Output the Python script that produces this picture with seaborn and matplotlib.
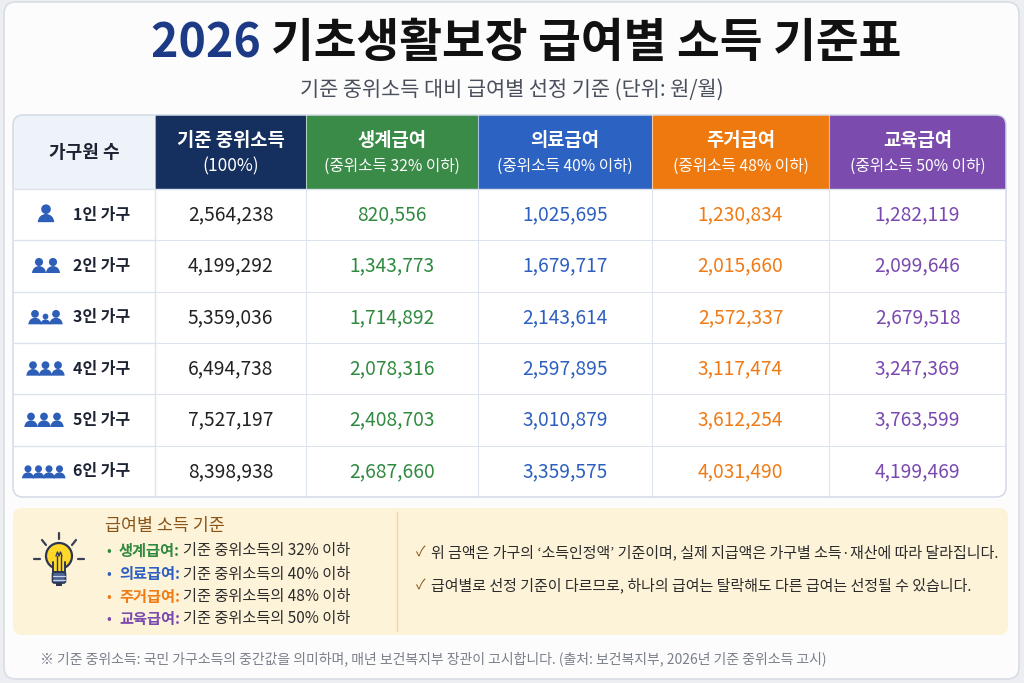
import numpy as np
import pandas as pd
import matplotlib
matplotlib.use("Agg")
import matplotlib.pyplot as plt
import seaborn as sns
from matplotlib.colors import ListedColormap
from matplotlib.patches import FancyBboxPatch, Rectangle, Circle, Wedge

# ---------------- data ----------------
households = ["1인 가구", "2인 가구", "3인 가구", "4인 가구", "5인 가구", "6인 가구"]
member_counts = [1, 2, 3, 4, 5, 6]
median_income = [2564238, 4199292, 5359036, 6494738, 7527197, 8398938]
livelihood = [820556, 1343773, 1714892, 2078316, 2408703, 2687660]
medical = [1025695, 1679717, 2143614, 2597895, 3010879, 3359575]
housing = [1230834, 2015660, 2572337, 3117474, 3612254, 4031490]
education = [1282119, 2099646, 2679518, 3247369, 3763599, 4199469]

col_titles = ["기준 중위소득", "생계급여", "의료급여", "주거급여", "교육급여"]
col_subtitles = ["(100%)", "(중위소득 32% 이하)", "(중위소득 40% 이하)",
                 "(중위소득 48% 이하)", "(중위소득 50% 이하)"]
benefit_names = ["생계급여", "의료급여", "주거급여", "교육급여"]
benefit_rates = ["32%", "40%", "48%", "50%"]

title_year = "2026"
title_rest = "기초생활보장 급여별 소득 기준표"
subtitle = "기준 중위소득 대비 급여별 선정 기준 (단위: 원/월)"
note_title = "급여별 소득 기준"
checks = ["위 금액은 가구의 ‘소득인정액’ 기준이며, 실제 지급액은 가구별 소득·재산에 따라 달라집니다.",
          "급여별로 선정 기준이 다르므로, 하나의 급여는 탈락해도 다른 급여는 선정될 수 있습니다."]
footnote = "※ 기준 중위소득: 국민 가구소득의 중간값을 의미하며, 매년 보건복지부 장관이 고시합니다. (출처: 보건복지부, 2026년 기준 중위소득 고시)"

# ---------------- style ----------------
sns.set_theme(style="white")
FAM = ["Noto Sans CJK KR", "DejaVu Sans"]
plt.rcParams["font.family"] = FAM

head_colors = ["#15305f", "#3a8a48", "#2c62c1", "#ee7a0f", "#7b4cae"]
val_colors = ["#222222", "#2f8a40", "#2c5fbf", "#f07a14", "#7a49b0"]
icon_blue = "#2d5fb8"
grid_c = "#dde3ee"

W, H = 1024, 683
fig = plt.figure(figsize=(W / 100, H / 100), dpi=100)
fig.patch.set_facecolor("#eceef2")

def px_axes(zorder):
    a = fig.add_axes([0, 0, 1, 1], zorder=zorder)
    a.set_xlim(0, W)
    a.set_ylim(H, 0)
    a.axis("off")
    a.patch.set_alpha(0)
    return a

bg = px_axes(0)
bg.add_patch(FancyBboxPatch((4, 2), 1015, 677, boxstyle="round,pad=0,rounding_size=12",
                            fc="#fcfcfd", ec="#d9dde4", lw=1.2))

# ---------------- table ----------------
edges = [13, 155, 306, 478, 652, 829, 1006]
top_h, bot_h = 115, 189
row_top, row_bot = 189, 497
series = [median_income, livelihood, medical, housing, education]

for j, vals in enumerate(series):
    x0, x1 = edges[j + 1], edges[j + 2]
    hax = fig.add_axes([x0 / W, 1 - row_bot / H, (x1 - x0) / W, (row_bot - row_top) / H], zorder=1)
    df = pd.DataFrame({col_titles[j]: vals}, index=households)
    sns.heatmap(df, ax=hax, cmap=ListedColormap(["white"]), vmin=0, vmax=1e7, cbar=False,
                annot=True, fmt=",d", linewidths=0.6, linecolor=grid_c,
                annot_kws=dict(color=val_colors[j], fontsize=13.8))
    hax.set_xticks([]); hax.set_yticks([])
    hax.set_xlabel(""); hax.set_ylabel("")
    for s in hax.spines.values():
        s.set_visible(False)

fg = px_axes(2)
fig.canvas.draw()
renderer = fig.canvas.get_renderer()

# label column background and row lines
fg.add_patch(Rectangle((edges[0], row_top), edges[1] - edges[0], row_bot - row_top, fc="white", ec="none"))
rh = (row_bot - row_top) / len(households)
for i in range(1, len(households)):
    y = row_top + i * rh
    fg.plot([edges[0], edges[1]], [y, y], color=grid_c, lw=1)
fg.plot([edges[1], edges[1]], [row_top, row_bot], color=grid_c, lw=1)

# header cells
def header_cell(x0, x1, color, round_side=None):
    if round_side is None:
        fg.add_patch(Rectangle((x0, top_h), x1 - x0, bot_h - top_h, fc=color, ec="none"))
    else:
        fg.add_patch(FancyBboxPatch((x0, top_h), x1 - x0, bot_h - top_h,
                                    boxstyle="round,pad=0,rounding_size=10", fc=color, ec="none"))
        fg.add_patch(Rectangle((x0, top_h + 12), x1 - x0, bot_h - top_h - 12, fc=color, ec="none"))
        if round_side == "left":
            fg.add_patch(Rectangle((x0 + 12, top_h), x1 - x0 - 12, bot_h - top_h, fc=color, ec="none"))
        else:
            fg.add_patch(Rectangle((x0, top_h), x1 - x0 - 12, bot_h - top_h, fc=color, ec="none"))

header_cell(edges[0], edges[1], "#eef2f9", "left")
fg.text((edges[0] + edges[1]) / 2, 153, "가구원 수", ha="center", va="center",
        fontsize=13, fontweight="bold", color="#1d2333")
for j in range(5):
    x0, x1 = edges[j + 1], edges[j + 2]
    header_cell(x0, x1, head_colors[j], "right" if j == 4 else None)
    cx = (x0 + x1) / 2
    fg.text(cx, 140, col_titles[j], ha="center", va="center", fontsize=13.5,
            fontweight="bold", color="white")
    fg.text(cx, 166, col_subtitles[j], ha="center", va="center",
            fontsize=12.5 if j == 0 else 11.3, color="white")
for x in edges[1:-1]:
    fg.plot([x, x], [top_h, bot_h], color="white", lw=0.8, alpha=0.6)
fg.plot([edges[0], edges[-1]], [bot_h, bot_h], color=grid_c, lw=1)

# outer table border
fg.add_patch(FancyBboxPatch((edges[0], top_h), edges[-1] - edges[0], row_bot - top_h,
                            boxstyle="round,pad=0,rounding_size=10", fc="none", ec="#d3dae6", lw=1.1))

# row labels and person icons
def person(cx, base_y, scale):
    fg.add_patch(Circle((cx, base_y - 10 * scale), 3.7 * scale, fc=icon_blue, ec="none"))
    fg.add_patch(Wedge((cx, base_y), 6.3 * scale, 180, 360, fc=icon_blue, ec="none"))

for i, (lab, n) in enumerate(zip(households, member_counts)):
    cy = row_top + (i + 0.5) * rh
    fg.text(73, cy, lab, ha="left", va="center", fontsize=11.5, fontweight="bold", color="#1d2333")
    base = cy + 7
    if n == 1:
        person(46, base + 0.5, 1.3)
    elif n == 2:
        for cx in [39, 53]:
            person(cx, base, 1.1)
    elif n == 3:
        person(35, base, 1.05); person(56, base, 1.05); person(45.5, base, 0.78)
    elif n in (4, 5):
        for cx in ([33, 45.5, 58] if n == 4 else [31, 44, 57]):
            person(cx, base, 1.05)
    else:
        for cx in [28, 38.5, 49, 59.5]:
            person(cx, base, 0.95)

# ---------------- title ----------------
def text_width(t):
    t.draw(renderer)
    return t.get_window_extent(renderer).width

t1 = fg.text(0, 43, title_year + " ", ha="left", va="center", fontsize=33.5, fontweight="bold", color="#1c3a86")
t2 = fg.text(0, 43, title_rest, ha="left", va="center", fontsize=33.5, fontweight="bold", color="#111111")
w1, w2 = text_width(t1), text_width(t2)
start = 526 - (w1 + w2) / 2
t1.set_x(start); t2.set_x(start + w1)
fg.text(W / 2, 90, subtitle, ha="center", va="center", fontsize=15, color="#4a4f5c")

# ---------------- notes box ----------------
fg.add_patch(FancyBboxPatch((13, 508), 995, 127, boxstyle="round,pad=0,rounding_size=9",
                            fc="#fdf3d9", ec="none"))
fg.plot([397, 397], [512, 631], color="#f0d6a6", lw=1)

# light bulb
bx, by = 59, 556
for (xa, ya, xb, yb) in [(bx, 533, bx, 539), (42, 540, 46, 545), (76, 540, 72, 545),
                         (34, 559, 40, 559), (78, 559, 84, 559)]:
    fg.plot([xa, xb], [ya, yb], color="#3a3f55", lw=1.6, solid_capstyle="round")
fg.add_patch(Circle((bx, by), 13, fc="#ffd82a", ec="#2e3550", lw=1.6))
fg.add_patch(Rectangle((bx - 6, 566), 12, 8, fc="#ffd82a", ec="none"))
fg.plot([bx - 6, bx - 6, bx + 6, bx + 6], [562, 572, 572, 562], color="#2e3550", lw=1.4)
fg.plot([bx - 3, bx - 1.5, bx, bx + 1.5, bx + 3], [556, 552, 556, 552, 556], color="#2e3550", lw=1)
fg.plot([bx - 2, bx - 2], [556, 572], color="#2e3550", lw=1)
fg.plot([bx + 2, bx + 2], [556, 572], color="#2e3550", lw=1)
fg.add_patch(FancyBboxPatch((bx - 6.5, 572), 13, 11, boxstyle="round,pad=0,rounding_size=2",
                            fc="#4a6494", ec="#2e3550", lw=1.2))
fg.plot([bx - 6, bx + 6], [576, 576], color="#c9d3e6", lw=0.9)
fg.plot([bx - 6, bx + 6], [579.5, 579.5], color="#c9d3e6", lw=0.9)
fg.add_patch(Rectangle((bx - 3, 583), 6, 3, fc="#2e3550", ec="none"))

fg.text(105, 526, note_title, ha="left", va="center", fontsize=12.5, color="#8a5516")
bullet_ys = [551, 574, 597, 619]
for k, (name, rate) in enumerate(zip(benefit_names, benefit_rates)):
    y = bullet_ys[k]
    c = val_colors[k + 1]
    fg.text(106, y, "•", ha="left", va="center", fontsize=10, color=c)
    ta = fg.text(119, y, name + ":", ha="left", va="center", fontsize=11, fontweight="bold", color=c)
    wa = text_width(ta)
    fg.text(119 + wa + 3, y, f"기준 중위소득의 {rate} 이하", ha="left", va="center",
            fontsize=11, color="#2b2b2b")

for k, msg in enumerate(checks):
    y = [552, 585][k]
    fg.text(416, y, "✓", ha="left", va="center", fontsize=10, color="#8a5516")
    fg.text(431, y, msg, ha="left", va="center", fontsize=10.8, color="#2b2b2b")

fg.text(40, 659, footnote, ha="left", va="center", fontsize=10, color="#7a7f8a")

fig.savefig("out.png", dpi=100, facecolor=fig.get_facecolor())
